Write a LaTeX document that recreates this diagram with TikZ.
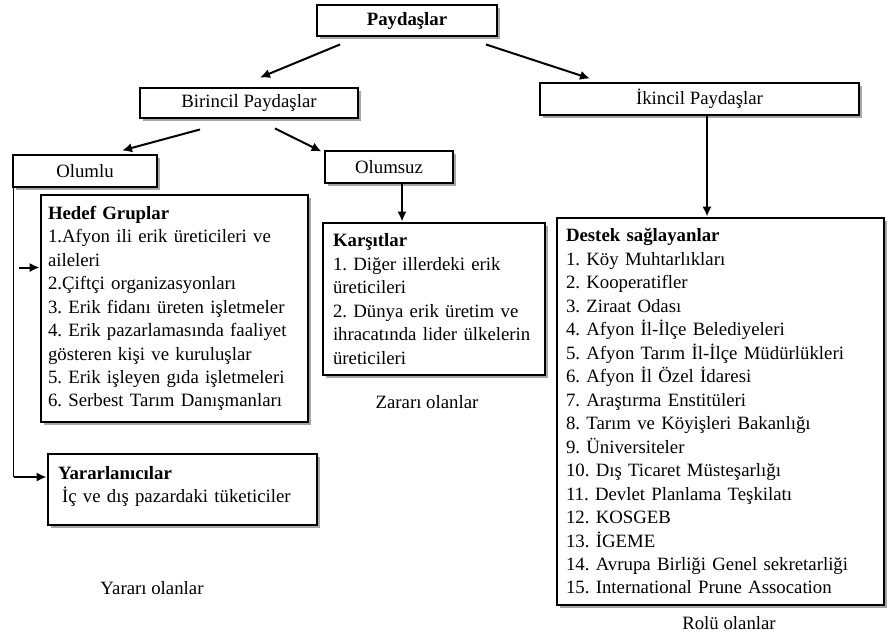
\documentclass[tikz,border=0pt]{standalone}
\usepackage{fontspec}
\setmainfont{Liberation Serif}
\usepackage{tikz}
\usetikzlibrary{calc, shadows, arrows.meta}
\newcommand{\pxu}{0.75pt}
\frenchspacing

\begin{document}
\begin{tikzpicture}[x=0.75pt, y=-0.75pt, >={Latex[length=7.5pt,width=7pt]},
    font=\fontsize{14.1}{17.6}\selectfont,
    kutu/.style={draw, line width=2.2pt, fill=white, inner sep=0pt,
        drop shadow={shadow xshift=2.5pt, shadow yshift=-2.5pt, fill=black!35, opacity=1}},
    liste/.style={kutu, align=left},
    ok/.style={->, line width=1.5pt}]
    \useasboundingbox (0,0) rectangle (889,637);

    % 1. Ust kutular
    \node[kutu, minimum width=180*\pxu, minimum height=31*\pxu] (pay) at (407,20.5) {\textbf{Paydaşlar}};
    \node[kutu, minimum width=218*\pxu, minimum height=30*\pxu] (bir) at (249,103) {Birincil Paydaşlar};
    \node[kutu, minimum width=319*\pxu, minimum height=32*\pxu] (iki) at (699.5,99) {İkincil Paydaşlar};
    \node[kutu, minimum width=144*\pxu, minimum height=32*\pxu] (olumlu) at (85,171) {Olumlu};
    \node[kutu, minimum width=128*\pxu, minimum height=32*\pxu] (olumsuz) at (389,167) {Olumsuz};

    % 2. Liste kutulari
    \node[liste, text width=253*\pxu, minimum width=267*\pxu, minimum height=227*\pxu] (hedef) at (174.5,308.5)
        {\textbf{Hedef Gruplar}\\
         1.Afyon ili erik üreticileri ve\\
         aileleri\\
         2.Çiftçi organizasyonları\\
         3. Erik fidanı üreten işletmeler\\
         4. Erik pazarlamasında faaliyet\\
         gösteren kişi ve kuruluşlar\\
         5. Erik işleyen gıda işletmeleri\\
         6. Serbest Tarım Danışmanları};
    \node[liste, text width=202*\pxu, minimum width=222*\pxu, minimum height=152*\pxu] (kars) at (434,299)
        {\textbf{Karşıtlar}\\
         1. Diğer illerdeki erik\\
         üreticileri\\
         2. Dünya erik üretim ve\\
         ihracatında lider ülkelerin\\
         üreticileri};
    \node[liste, text width=249*\pxu, minimum width=269*\pxu, minimum height=71*\pxu, text depth=25pt] (yarar) at (182.5,489.5)
        {\textbf{Yararlanıcılar}\\
         \hspace*{3pt}İç ve dış pazardaki tüketiciler};
    \node[liste, text width=309*\pxu, minimum width=327*\pxu, minimum height=387*\pxu] (destek) at (720.5,411.5)
        {\textbf{Destek sağlayanlar}\\
         1. Köy Muhtarlıkları\\
         2. Kooperatifler\\
         3. Ziraat Odası\\
         4. Afyon İl-İlçe Belediyeleri\\
         5. Afyon Tarım İl-İlçe Müdürlükleri\\
         6. Afyon İl Özel İdaresi\\
         7. Araştırma Enstitüleri\\
         8. Tarım ve Köyişleri Bakanlığı\\
         9. Üniversiteler\\
         10. Dış Ticaret Müsteşarlığı\\
         11. Devlet Planlama Teşkilatı\\
         12. KOSGEB\\
         13. İGEME\\
         14. Avrupa Birliği Genel sekretarliği\\
         15. International Prune Assocation};

    % 3. Alt yazilar
    \node (zarar) at (427,402) {Zararı olanlar};
    \node (yararli) at (152,588) {Yararı olanlar};
    \node (rol) at (729,623) {Rolü olanlar};

    % 4. Oklar
    \draw[ok] ($(pay.south)+(-67,7)$) -- ($(bir.north)+(11,-9)$);
    \draw[ok] ($(pay.south)+(79,7)$) -- ($(iki.north)+(-109.5,-3)$);
    \draw[ok] ($(bir.south)+(-49,10)$) -- ($(olumlu.north)+(37,-3)$);
    \draw[ok] ($(bir.south)+(26,9)$) -- ($(olumsuz.north west)+(-2,2)$);
    \draw[ok] ($(olumsuz.south)+(13,0)$) -- ($(kars.north)+(-32,0)$);
    \draw[ok] ($(iki.south)+(7.5,0)$) -- ($(destek.north)+(-13.5,0)$);

    % 5. Sol baglanti
    \coordinate (kose) at ($(yarar.west)+(-33,-12.5)$);
    \draw[line width=1pt] ($(olumlu.south west)+(2,0)$) -- (kose);
    \draw[ok] (kose) -- ($(yarar.west)+(0,-12.5)$);
    \draw[ok] ($(hedef.north west)+(-21,74)$) -- ($(hedef.north west)+(0,74)$);
\end{tikzpicture}
\end{document}
